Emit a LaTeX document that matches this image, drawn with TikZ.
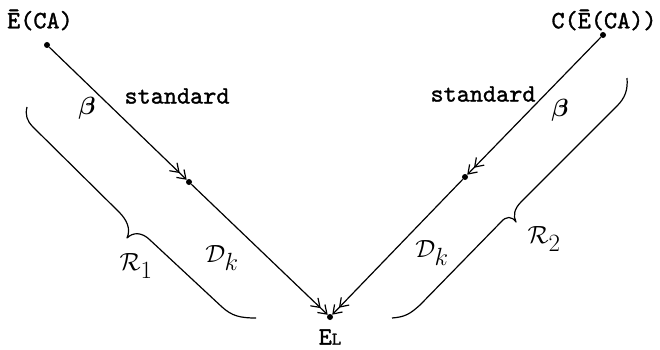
\documentclass[tikz,border=0pt]{standalone}
\usepackage{amsmath}
\usepackage{fontspec}
\usetikzlibrary{arrows.meta}
\newfontfamily\tw[FakeBold=1.3]{lmmono10-regular.otf}
\begin{document}
\begin{tikzpicture}[x=1pt,y=-1pt,
  dotn/.style={circle,fill=black,inner sep=0pt,minimum size=6pt},
  arr/.style={line width=1.2pt,-{Straight Barb[length=8pt,width=11pt]Straight Barb[length=8pt,width=11pt]}},
  brace/.style={line width=1.2pt,line join=round},
  lbl/.style={inner sep=0pt,font=\tw\fontsize{25}{27}\selectfont},
  mlbl/.style={inner sep=0pt,font=\fontsize{24}{26}\selectfont}]
\useasboundingbox (0,0) rectangle (660,350);
% points
\node[dotn] (A) at (47,45) {};
\node[dotn] (M1) at (189,182) {};
\node[dotn] (L) at (330,317) {};
\node[dotn] (B) at (603,35) {};
\node[dotn] (M2) at (465,177) {};
% connectors
\draw[arr] (A) -- (M1);
\draw[arr] (M1) -- (L);
\draw[arr] (B) -- (M2);
\draw[arr] (M2) -- (L);
% braces
\draw[brace] (27,107) .. controls (25,115) and (27,121) .. (33,127) -- (119,212)
  .. controls (127,220) and (131,229) .. (127,238)
  .. controls (133,232) and (142,232) .. (150,240) -- (222,307)
  .. controls (232,316) and (240,318) .. (256,318);
\draw[brace] (627,78) .. controls (628,90) and (625,98) .. (617,106) -- (521,202)
  .. controls (514,209) and (513,216) .. (516,222)
  .. controls (512,216) and (506,216) .. (501,222) -- (420,305)
  .. controls (410,314) and (405,317) .. (392,318);
% labels
\node[lbl] (tA) at (40,20) {Ē(CA)};
\node[lbl] (tB) at (604,20) {C(Ē(CA))};
\node[lbl] (s1) at (177,96) {standard};
\node[lbl] (s2) at (483,94) {standard};
\node[mlbl] (b1) at (87,108) {$\boldsymbol{\beta}$};
\node[mlbl] (b2) at (560,110) {$\boldsymbol{\beta}$};
\node[mlbl] (G) at (293,68) {$\mathbf{\Gamma}$};
\node[mlbl] (D1) at (222,258) {$\mathcal{D}_{\textstyle k}$};
\node[mlbl] (D2) at (432,253) {$\mathcal{D}_{\textstyle k}$};
\node[mlbl] (R1) at (136,266) {$\mathcal{R}_{\textstyle 1}$};
\node[mlbl] (R2) at (544,239) {$\mathcal{R}_{\textstyle 2}$};
\node[lbl] (EL) at (330,337) {E{\fontsize{18}{20}\selectfont L}};
\end{tikzpicture}
\end{document}
